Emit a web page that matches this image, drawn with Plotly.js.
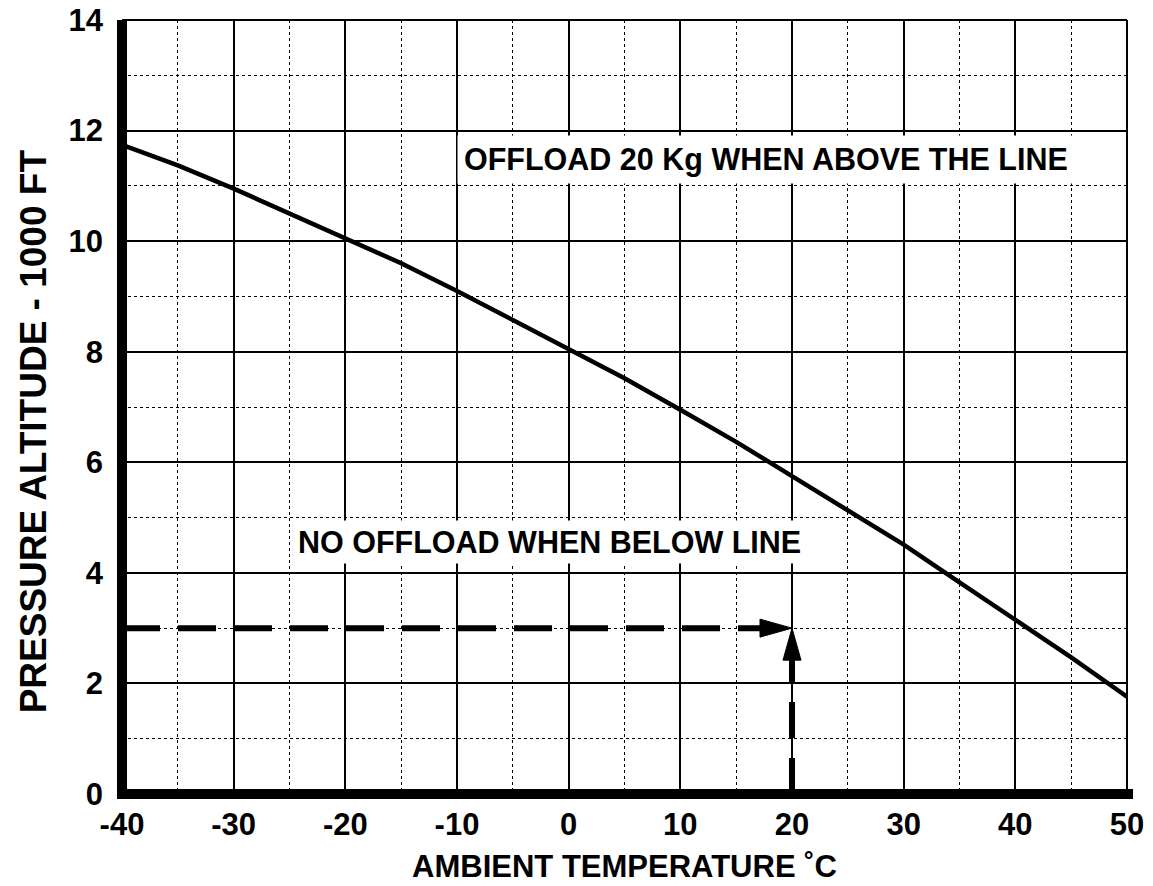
<!DOCTYPE html>
<html><head><meta charset="utf-8">
<script src="https://cdn.plot.ly/plotly-3.0.1.min.js"></script>
<style>html,body{margin:0;padding:0;background:#fff;}#chart{width:1153px;height:886px;}</style>
</head><body><div id="chart"></div>
<script>
// Offload boundary curve
const temperatureC = [-40,-35,-30,-25,-20,-15,-10,-5,0,5,10,15,20,25,30,35,40,45,50];
const altitudeK   = [11.74,11.37,10.95,10.50,10.05,9.60,9.10,8.58,8.06,7.52,6.95,6.37,5.75,5.14,4.51,3.83,3.15,2.47,1.76];
// Example reading (dashed guide lines)
const exampleTemp = [-40, 20];
const exampleAlt  = [0, 3];
// Ticks
const xTicks = [-40,-30,-20,-10,0,10,20,30,40,50];
const yTicks = [0,2,4,6,8,10,12,14];
// Labels
const xTitle = 'AMBIENT TEMPERATURE ˚C';
const yTitle = 'PRESSURE ALTITUDE - 1000 FT';
const upperLabel = 'OFFLOAD 20 Kg WHEN ABOVE THE LINE';
const upperPos = [17.7, 11.48];
const lowerLabel = 'NO OFFLOAD WHEN BELOW LINE';
const lowerPos = [-1.7, 4.56];

const FONT = 'Liberation Sans, Arial, Helvetica, sans-serif';
const bold = (size) => ({family: FONT, size: size, color: '#000', weight: 700});

const tx = exampleTemp[1], ty = exampleAlt[1];

const traces = [
  {x: temperatureC, y: altitudeK, mode: 'lines', line: {color: '#000', width: 4.5}, hoverinfo: 'skip'},
  {x: [exampleTemp[0], tx], y: [ty, ty], mode: 'lines', line: {color: '#000', width: 6, dash: '38px,18px'}, hoverinfo: 'skip'},
  {x: [tx, tx], y: [exampleAlt[0], ty], mode: 'lines', line: {color: '#000', width: 6, dash: '36px,20px'}, hoverinfo: 'skip'}
];

const axisCommon = {
  showline: false, zeroline: false, ticks: '', showgrid: true,
  gridcolor: '#000', gridwidth: 2, tickfont: bold(31), fixedrange: true
};

const layout = {
  width: 1153, height: 886, autosize: false,
  margin: {l: 122, r: 26, t: 20, b: 92, pad: 0},
  paper_bgcolor: '#fff', plot_bgcolor: '#fff', showlegend: false,
  xaxis: Object.assign({}, axisCommon, {
    range: [xTicks[0], xTicks[xTicks.length-1]], tickvals: xTicks, ticktext: xTicks.map(String),
    minor: {dtick: 5, tick0: -40, showgrid: true, gridcolor: '#000', gridwidth: 1, griddash: 'dot'},
    ticklabelstandoff: 9,
    title: {text: xTitle, font: bold(31), standoff: 14}
  }),
  yaxis: Object.assign({}, axisCommon, {
    range: [yTicks[0], yTicks[yTicks.length-1]], tickvals: yTicks, ticktext: yTicks.map(String),
    minor: {dtick: 1, tick0: 0, showgrid: true, gridcolor: '#000', gridwidth: 1, griddash: 'dot'},
    ticklabelstandoff: 18
  }),
  shapes: [
    // frame
    {type: 'line', xref: 'paper', yref: 'paper', x0: 0, x1: 1, y0: 1, y1: 1, line: {color: '#000', width: 2}},
    {type: 'line', xref: 'paper', yref: 'paper', x0: 1, x1: 1, y0: 0, y1: 1, line: {color: '#000', width: 2}},
    {type: 'line', xref: 'paper', yref: 'paper', x0: 0, x1: 0, y0: -0.0065, y1: 1, line: {color: '#000', width: 10}},
    {type: 'line', xref: 'paper', yref: 'paper', x0: -0.005, x1: 1.006, y0: 0, y1: 0, line: {color: '#000', width: 10}},
    // arrowheads
    {type: 'path', xref: 'x', yref: 'y', xsizemode: 'pixel', ysizemode: 'pixel', xanchor: tx, yanchor: ty,
     path: 'M-32,9L0,0L-32,-9Z', fillcolor: '#000', line: {color: '#000', width: 1}},
    {type: 'path', xref: 'x', yref: 'y', xsizemode: 'pixel', ysizemode: 'pixel', xanchor: tx, yanchor: ty,
     path: 'M-9,-32L0,0L9,-32Z', fillcolor: '#000', line: {color: '#000', width: 1}}
  ],
  annotations: [
    {x: upperPos[0], y: upperPos[1], xref: 'x', yref: 'y', text: upperLabel, showarrow: false,
     font: bold(30.5), bgcolor: '#fff', borderpad: 6},
    {x: lowerPos[0], y: lowerPos[1], xref: 'x', yref: 'y', text: lowerLabel, showarrow: false,
     font: bold(30.5), bgcolor: '#fff', borderpad: 4},
    {x: -0.088, y: 0.468, xref: 'paper', yref: 'paper', text: yTitle, showarrow: false, textangle: -90,
     xanchor: 'center', yanchor: 'middle', font: bold(37)}
  ]
};

Plotly.newPlot('chart', traces, layout, {staticPlot: true, displayModeBar: false});
</script>
</body></html>
